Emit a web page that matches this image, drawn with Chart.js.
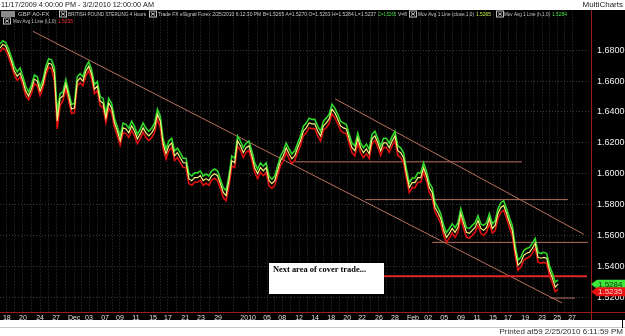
<!DOCTYPE html>
<html>
<head>
<meta charset="utf-8">
<script src="https://cdn.jsdelivr.net/npm/chart.js@4.4.1/dist/chart.umd.min.js"></script>
<style>
  html, body { margin: 0; padding: 0; background: #fff; }
  canvas { display: block; }
</style>
</head>
<body>
<canvas id="myChart" width="625" height="336"></canvas>
<script>
// GBP 4 hour bars, 11/18/2009 .. 2/25/2010
const closes = [
  1.6813, 1.6839, 1.6826, 1.6781, 1.6729, 1.6665, 1.6632, 1.6652, 1.6600, 1.6535,
  1.6503, 1.6548, 1.6613, 1.6600, 1.6535, 1.6581, 1.6665, 1.6716, 1.6710, 1.6652,
  1.6342, 1.6490, 1.6503, 1.6581, 1.6503, 1.6419, 1.6426, 1.6600, 1.6619, 1.6600,
  1.6665, 1.6697, 1.6645, 1.6548, 1.6568, 1.6471, 1.6458, 1.6361, 1.6458, 1.6426,
  1.6329, 1.6277, 1.6213, 1.6297, 1.6290, 1.6265, 1.6310, 1.6277, 1.6226, 1.6258,
  1.6297, 1.6265, 1.6245, 1.6265, 1.6297, 1.6387, 1.6342, 1.6194, 1.6129, 1.6181,
  1.6200, 1.6116, 1.6136, 1.6103, 1.6071, 1.6071, 1.5968, 1.5955, 1.5974, 1.5974,
  1.5987, 1.5955, 1.5968, 1.5955, 1.5987, 1.6000, 1.5987, 1.5936, 1.5878, 1.5858,
  1.5955, 1.6084, 1.6071, 1.6213, 1.6181, 1.6136, 1.6168, 1.6181, 1.6116, 1.6039,
  1.6000, 1.6039, 1.6019, 1.6039, 1.5955, 1.5936, 1.5955, 1.6019, 1.6084, 1.6116,
  1.6168, 1.6129, 1.6097, 1.6116, 1.6168, 1.6213, 1.6277, 1.6297, 1.6329, 1.6323,
  1.6323, 1.6277, 1.6245, 1.6310, 1.6329, 1.6355, 1.6419, 1.6394, 1.6355, 1.6310,
  1.6297, 1.6290, 1.6226, 1.6168, 1.6149, 1.6232, 1.6168, 1.6136, 1.6161, 1.6129,
  1.6226, 1.6245, 1.6200, 1.6149, 1.6200, 1.6200, 1.6168, 1.6210, 1.6245, 1.6149,
  1.6136, 1.6103, 1.6000, 1.5910, 1.5942, 1.5942, 1.5974, 1.5974, 1.6039, 1.5987,
  1.5910, 1.5878, 1.5781, 1.5749, 1.5710, 1.5633, 1.5587, 1.5613, 1.5645, 1.5620,
  1.5652, 1.5742, 1.5678, 1.5620, 1.5613, 1.5633, 1.5652, 1.5697, 1.5645, 1.5633,
  1.5652, 1.5710, 1.5645, 1.5665, 1.5742, 1.5781, 1.5794, 1.5742, 1.5684, 1.5633,
  1.5504, 1.5407, 1.5426, 1.5471, 1.5484, 1.5491, 1.5516, 1.5549, 1.5458, 1.5452,
  1.5458, 1.5452, 1.5374, 1.5323, 1.5265, 1.5284
];
const highs = [
  1.6840, 1.6862, 1.6850, 1.6810, 1.6755, 1.6695, 1.6660, 1.6685, 1.6630, 1.6565,
  1.6530, 1.6575, 1.6640, 1.6628, 1.6562, 1.6610, 1.6695, 1.6745, 1.6738, 1.6690,
  1.6400, 1.6520, 1.6530, 1.6610, 1.6530, 1.6450, 1.6455, 1.6630, 1.6648, 1.6628,
  1.6695, 1.6725, 1.6675, 1.6578, 1.6598, 1.6500, 1.6488, 1.6390, 1.6488, 1.6455,
  1.6360, 1.6305, 1.6245, 1.6328, 1.6320, 1.6295, 1.6340, 1.6305, 1.6255, 1.6288,
  1.6328, 1.6295, 1.6275, 1.6295, 1.6328, 1.6418, 1.6372, 1.6225, 1.6160, 1.6212,
  1.6230, 1.6148, 1.6165, 1.6135, 1.6100, 1.6100, 1.6000, 1.5985, 1.6005, 1.6005,
  1.6018, 1.5985, 1.5998, 1.5985, 1.6018, 1.6030, 1.6018, 1.5965, 1.5910, 1.5890,
  1.5990, 1.6115, 1.6100, 1.6245, 1.6212, 1.6168, 1.6198, 1.6212, 1.6148, 1.6070,
  1.6030, 1.6070, 1.6050, 1.6070, 1.5985, 1.5965, 1.5985, 1.6050, 1.6115, 1.6148,
  1.6198, 1.6160, 1.6128, 1.6148, 1.6198, 1.6245, 1.6308, 1.6328, 1.6360, 1.6352,
  1.6352, 1.6308, 1.6275, 1.6340, 1.6360, 1.6385, 1.6450, 1.6425, 1.6385, 1.6340,
  1.6328, 1.6320, 1.6255, 1.6198, 1.6180, 1.6262, 1.6198, 1.6168, 1.6192, 1.6160,
  1.6255, 1.6275, 1.6230, 1.6180, 1.6230, 1.6230, 1.6198, 1.6240, 1.6275, 1.6180,
  1.6168, 1.6135, 1.6030, 1.5940, 1.5972, 1.5972, 1.6005, 1.6005, 1.6070, 1.6018,
  1.5940, 1.5910, 1.5812, 1.5780, 1.5740, 1.5665, 1.5618, 1.5645, 1.5675, 1.5650,
  1.5682, 1.5772, 1.5710, 1.5650, 1.5645, 1.5665, 1.5682, 1.5728, 1.5675, 1.5665,
  1.5682, 1.5740, 1.5675, 1.5695, 1.5772, 1.5812, 1.5825, 1.5772, 1.5715, 1.5665,
  1.5535, 1.5440, 1.5458, 1.5502, 1.5515, 1.5522, 1.5548, 1.5580, 1.5490, 1.5482,
  1.5490, 1.5482, 1.5405, 1.5355, 1.5298, 1.5310
];
const lows = [
  1.6790, 1.6815, 1.6800, 1.6755, 1.6700, 1.6640, 1.6605, 1.6625, 1.6575, 1.6505,
  1.6480, 1.6520, 1.6585, 1.6570, 1.6505, 1.6555, 1.6640, 1.6690, 1.6680, 1.6600,
  1.6290, 1.6440, 1.6475, 1.6550, 1.6470, 1.6390, 1.6395, 1.6570, 1.6590, 1.6570,
  1.6635, 1.6670, 1.6615, 1.6520, 1.6540, 1.6440, 1.6430, 1.6330, 1.6425, 1.6395,
  1.6300, 1.6245, 1.6185, 1.6265, 1.6260, 1.6235, 1.6280, 1.6245, 1.6195, 1.6228,
  1.6268, 1.6235, 1.6215, 1.6235, 1.6265, 1.6355, 1.6300, 1.6160, 1.6095, 1.6150,
  1.6170, 1.6085, 1.6105, 1.6072, 1.6040, 1.6040, 1.5935, 1.5925, 1.5945, 1.5945,
  1.5958, 1.5925, 1.5938, 1.5925, 1.5958, 1.5970, 1.5955, 1.5905, 1.5845, 1.5825,
  1.5920, 1.6050, 1.6040, 1.6180, 1.6150, 1.6105, 1.6138, 1.6150, 1.6085, 1.6008,
  1.5968, 1.6008, 1.5988, 1.6008, 1.5922, 1.5905, 1.5925, 1.5988, 1.6052, 1.6085,
  1.6138, 1.6098, 1.6065, 1.6085, 1.6138, 1.6182, 1.6245, 1.6265, 1.6298, 1.6292,
  1.6292, 1.6245, 1.6212, 1.6280, 1.6298, 1.6325, 1.6388, 1.6362, 1.6325, 1.6280,
  1.6265, 1.6260, 1.6195, 1.6135, 1.6115, 1.6200, 1.6135, 1.6105, 1.6130, 1.6098,
  1.6195, 1.6215, 1.6170, 1.6118, 1.6170, 1.6170, 1.6138, 1.6180, 1.6215, 1.6118,
  1.6105, 1.6072, 1.5968, 1.5878, 1.5910, 1.5910, 1.5945, 1.5945, 1.6008, 1.5955,
  1.5878, 1.5845, 1.5750, 1.5718, 1.5678, 1.5600, 1.5555, 1.5582, 1.5615, 1.5588,
  1.5620, 1.5710, 1.5645, 1.5588, 1.5582, 1.5600, 1.5620, 1.5665, 1.5615, 1.5600,
  1.5620, 1.5678, 1.5615, 1.5632, 1.5710, 1.5750, 1.5762, 1.5710, 1.5652, 1.5600,
  1.5470, 1.5375, 1.5395, 1.5440, 1.5452, 1.5460, 1.5485, 1.5518, 1.5425, 1.5420,
  1.5425, 1.5420, 1.5342, 1.5290, 1.5235, 1.5250
];

// date labels along the bottom and the bar they sit on
const xTickPos = [2.4, 8.0, 14.0, 19.6, 25.9, 31.1, 36.7, 41.9, 47.5, 53.5, 58.7, 64.7, 70.2, 76.2,
  86.7, 93.3, 98.6, 104.5, 110.1, 115.7, 121.3, 126.5, 132.4, 138.0,
  144.3, 149.6, 155.2, 161.1, 166.7, 172.3, 177.5, 183.5, 189.4, 194.7, 199.9];
const xTickLabels = ['18', '20', '24', '27', 'Dec', '03', '07', '09', '11', '15', '17', '21', '23', '29',
  '2010', '05', '08', '12', '14', '18', '20', '22', '26', '28',
  'Feb', '02', '05', '09', '11', '15', '17', '19', '23', '25', '27'];
const priceTicks = [1.52, 1.54, 1.56, 1.58, 1.60, 1.62, 1.64, 1.66, 1.68];

// drawn channel lines: [bar1, price1, bar2, price2]
const trendLines = [
  [11.5, 1.6923, 196.4, 1.5162],
  [117.1, 1.6485, 204.0, 1.5607]
];
// horizontal levels: [fromBar, toBar, price]
const levels = [
  [103.1, 182.4, 1.6077],
  [127.6, 198.5, 1.5832],
  [151.0, 205.5, 1.5555],
  [192.2, 200.9, 1.5194]
];
const coverLevel = [110.0, 205.1, 1.5335];
const lastClose = 1.5284;
const lastLow = 1.5235;

const datasets = [
  { data: closes.map((y, i) => ({ x: i, y })), borderColor: '#f4f07a', borderWidth: 1.2 },
  { data: highs.map((y, i) => ({ x: i, y })), borderColor: '#2fd82a', borderWidth: 1.6 },
  { data: lows.map((y, i) => ({ x: i, y })), borderColor: '#e01010', borderWidth: 1.6 },
  { data: [{ x: coverLevel[0], y: coverLevel[2] }, { x: coverLevel[1], y: coverLevel[2] }], borderColor: '#e02828', borderWidth: 2 }
];
trendLines.forEach(t => datasets.push({
  data: [{ x: t[0], y: t[1] }, { x: t[2], y: t[3] }], borderColor: '#b8705c', borderWidth: 1
}));
levels.forEach(l => datasets.push({
  data: [{ x: l[0], y: l[2] }, { x: l[1], y: l[2] }], borderColor: '#b8705c', borderWidth: 1
}));

const FONT = '"Liberation Sans", Arial, sans-serif';

function icon(c, x, y) {
  c.strokeStyle = '#c0c0c0';
  c.lineWidth = 1;
  c.strokeRect(x + 0.5, y - 3.5, 7, 6);
  c.beginPath();
  c.moveTo(x + 2, y - 2); c.lineTo(x + 6, y + 1);
  c.moveTo(x + 6, y - 2); c.lineTo(x + 2, y + 1);
  c.stroke();
}

function tag(c, y, bg, fg, text) {
  c.fillStyle = bg;
  c.beginPath();
  c.moveTo(591, y);
  c.lineTo(597, y - 4.5);
  c.lineTo(625, y - 4.5);
  c.lineTo(625, y + 4.5);
  c.lineTo(597, y + 4.5);
  c.closePath();
  c.fill();
  c.fillStyle = fg;
  c.font = '8px ' + FONT;
  c.textAlign = 'left';
  c.textBaseline = 'middle';
  c.fillText(text, 598, y + 0.5);
}

const frame = {
  id: 'frame',
  beforeDraw(chart) {
    const c = chart.ctx;
    c.save();
    c.fillStyle = '#fff';
    c.fillRect(0, 0, 625, 336);
    c.fillStyle = '#000';
    c.fillRect(0, 10, 625, 310);
    c.restore();
  },
  afterDatasetsDraw(chart) {
    const c = chart.ctx;
    const ys = chart.scales.y;
    c.save();
    // note box
    c.fillStyle = '#fff';
    c.fillRect(269, 263, 115, 31);
    c.fillStyle = '#000';
    c.font = 'bold 9px "Liberation Serif", "Times New Roman", serif';
    c.textBaseline = 'top';
    c.fillText('Next area of cover trade...', 273, 265, 93);
    // axes lines
    c.strokeStyle = '#9a1c1c';
    c.lineWidth = 1;
    c.beginPath();
    c.moveTo(591.5, 10); c.lineTo(591.5, 320);
    c.moveTo(0, 312.5); c.lineTo(625, 312.5);
    c.stroke();
    tag(c, ys.getPixelForValue(lastClose), '#3ee83a', '#103010', lastClose.toFixed(4));
    tag(c, ys.getPixelForValue(lastLow), '#e81010', '#ffd0d0', lastLow.toFixed(4));
    c.restore();
  },
  afterDraw(chart) {
    const c = chart.ctx;
    c.save();
    c.textBaseline = 'middle';
    c.textAlign = 'left';
    c.fillStyle = '#202020';
    c.font = '8px ' + FONT;
    c.fillText('11/17/2009 4:00:00 PM - 3/2/2010 12:00:00 AM', 1, 5, 153);
    c.textAlign = 'right';
    c.fillText('MultiCharts', 623, 5);

    // status lines
    c.textAlign = 'left';
    c.font = '6px ' + FONT;
    c.fillStyle = '#8a8a8a';
    c.fillRect(1, 11, 14, 6);
    const row1 = [
      [18, 'GBP A0-FX', '#c8c8c8', 40],
      [68, 'BRITISH POUND STERLING 4 Hours', '#c8c8c8', 78],
      [158, 'Trade FX eSignal Forex 2/25/2010 6:12:30 PM B=1.5265 A=1.5270 O=1.5263 H=1.5284 L=1.5237', '#c8c8c8', 218],
      [378, 'C=1.5265', '#4de04a', 18],
      [398, 'V=8', '#c8c8c8', 9],
      [418, 'Mov Avg 1 Line (close,1,0)', '#c8c8c8', 56],
      [476, '1.5265', '#c8f040', 15],
      [504, 'Mov Avg 1 Line (h,1,0)', '#c8c8c8', 46],
      [552, '1.5284', '#4de04a', 15]
    ];
    row1.forEach(r => { c.fillStyle = r[2]; c.fillText(r[1], r[0], 14.5, r[3]); });
    [59, 149, 409, 496].forEach(x => icon(c, x, 14.5));
    icon(c, 3, 21.5);
    c.fillStyle = '#c8c8c8';
    c.fillText('Mov Avg 1 Line (l,1,0)', 13, 21.5, 43);
    c.fillStyle = '#ff3030';
    c.fillText('1.5235', 58, 21.5, 15);

    // footer
    c.fillStyle = '#c8c8c8';
    c.fillRect(0, 327, 625, 1);
    c.fillStyle = '#000';
    c.fillRect(622, 320, 1, 8);
    c.fillStyle = '#303030';
    c.font = '8px ' + FONT;
    c.textAlign = 'right';
    c.fillText('Printed at59 2/25/2010 6:11:59 PM', 623, 331.5);
    c.restore();
  }
};

// label ticks plus an unlabelled grid line halfway between each pair
function xGridTicks(scale) {
  const t = [];
  xTickPos.forEach((v, i) => {
    t.push({ value: v, label: xTickLabels[i] });
    if (i < xTickPos.length - 1) t.push({ value: (v + xTickPos[i + 1]) / 2, label: '' });
  });
  scale.ticks = t;
}

const ctx = document.getElementById('myChart').getContext('2d');
const myChart = new Chart(ctx, {
  type: 'line',
  data: { datasets },
  options: {
    responsive: false,
    animation: false,
    devicePixelRatio: 1,
    layout: { padding: { top: 10, left: 0, right: 0, bottom: 15 } },
    datasets: { line: { pointRadius: 0, tension: 0, fill: false } },
    plugins: { legend: { display: false }, tooltip: { enabled: false } },
    scales: {
      x: {
        type: 'linear',
        min: 0,
        max: 206.5,
        afterFit: s => { s.height = 8; },
        afterBuildTicks: xGridTicks,
        grid: { color: '#363636', tickLength: 0, drawTicks: false },
        border: { display: false, dash: [1, 2] },
        ticks: {
          autoSkip: false,
          maxRotation: 0,
          padding: 1,
          color: '#e0e0e0',
          font: { family: FONT, size: 7 },
          callback: function (v, i, ticks) { return ticks[i].label; }
        }
      },
      y: {
        position: 'right',
        min: 1.5097,
        max: 1.7052,
        afterFit: s => { s.width = 34; },
        afterBuildTicks: s => { s.ticks = priceTicks.map(v => ({ value: v })); },
        grid: { color: '#3c3c3c', tickLength: 0, drawTicks: false },
        border: { display: false, dash: [1, 2] },
        ticks: {
          padding: 6,
          color: '#f0f0f0',
          font: { family: FONT, size: 9 },
          callback: v => v.toFixed(4)
        }
      }
    }
  },
  plugins: [frame]
});
</script>
</body>
</html>
